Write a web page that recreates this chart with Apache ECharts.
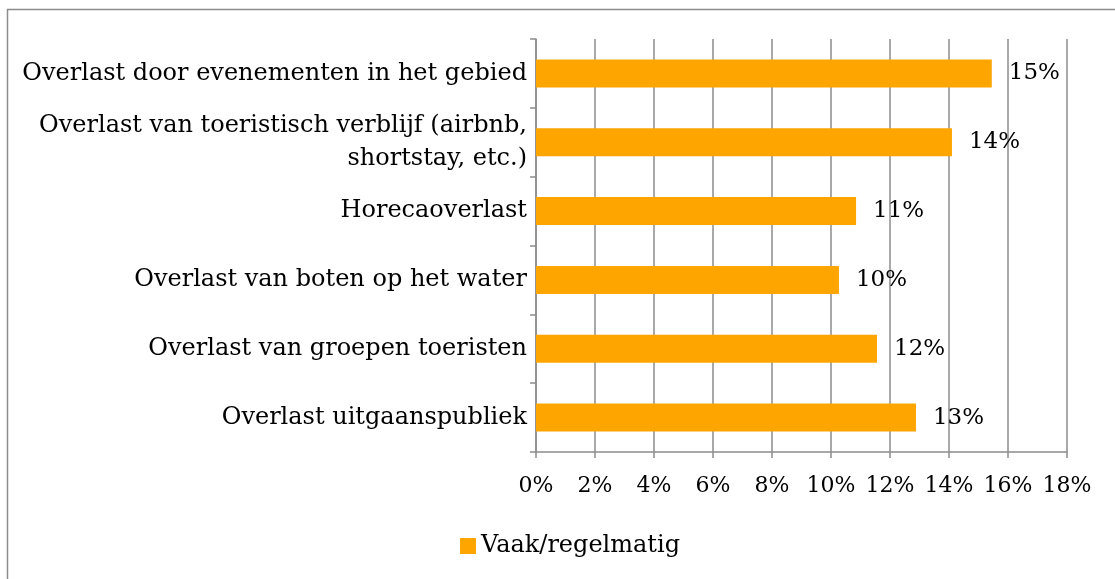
<!DOCTYPE html>
<html>
<head>
<meta charset="utf-8">
<script src="https://cdn.jsdelivr.net/npm/echarts@6/dist/echarts.min.js"></script>
<style>
  html, body { margin: 0; padding: 0; background: #fff; }
  #chart { width: 1115px; height: 579px; }
</style>
</head>
<body>
<div id="chart"></div>
<script>
var categories = [
  'Overlast door evenementen in het gebied',
  'Overlast van toeristisch verblijf (airbnb,\nshortstay, etc.)',
  'Horecaoverlast',
  'Overlast van boten op het water',
  'Overlast van groepen toeristen',
  'Overlast uitgaanspubliek'
];
var values = [15.45, 14.1, 10.85, 10.27, 11.56, 12.88];
var seriesName = 'Vaak/regelmatig';

var serif = '"DejaVu Serif", "Liberation Serif", serif';
var gray = '#8c8c8c';

var chart = echarts.init(document.getElementById('chart'));
chart.setOption({
  animation: false,
  backgroundColor: '#fff',
  graphic: [{
    type: 'rect',
    shape: { x: 7.5, y: 9.5, width: 1200, height: 700 },
    style: { fill: 'none', stroke: '#8c8c8c', lineWidth: 1.5 },
    silent: true
  }],
  grid: { left: 536, right: 48, top: 39, bottom: 127 },
  legend: {
    bottom: 16,
    left: 455,
    itemWidth: 16,
    itemHeight: 16,
    itemGap: 4,
    icon: 'rect',
    textStyle: { fontFamily: serif, fontSize: 24, color: '#000' },
    data: [seriesName]
  },
  xAxis: {
    type: 'value',
    min: 0,
    max: 18,
    interval: 2,
    axisLine: { show: true, lineStyle: { color: gray, width: 1.5 } },
    axisTick: { show: true, length: 6, lineStyle: { color: gray, width: 1.5 } },
    splitLine: { show: true, lineStyle: { color: gray, width: 1.5 } },
    axisLabel: {
      fontFamily: serif, fontSize: 22, color: '#000', margin: 23,
      formatter: function (v) { return v + '%'; }
    }
  },
  yAxis: {
    type: 'category',
    inverse: true,
    data: categories,
    axisLine: { show: true, lineStyle: { color: gray, width: 1.5 } },
    axisTick: { show: true, length: 6, lineStyle: { color: gray, width: 1.5 } },
    axisLabel: {
      fontFamily: serif, fontSize: 24, color: '#000', margin: 9,
      lineHeight: 33, align: 'right'
    }
  },
  series: [{
    name: seriesName,
    type: 'bar',
    data: values,
    barWidth: 28,
    itemStyle: { color: '#FFA500' },
    label: {
      show: true,
      position: 'right',
      distance: 17,
      fontFamily: serif,
      fontSize: 23,
      color: '#000',
      formatter: function (p) { return Math.round(p.value) + '%'; }
    }
  }]
});
</script>
</body>
</html>
